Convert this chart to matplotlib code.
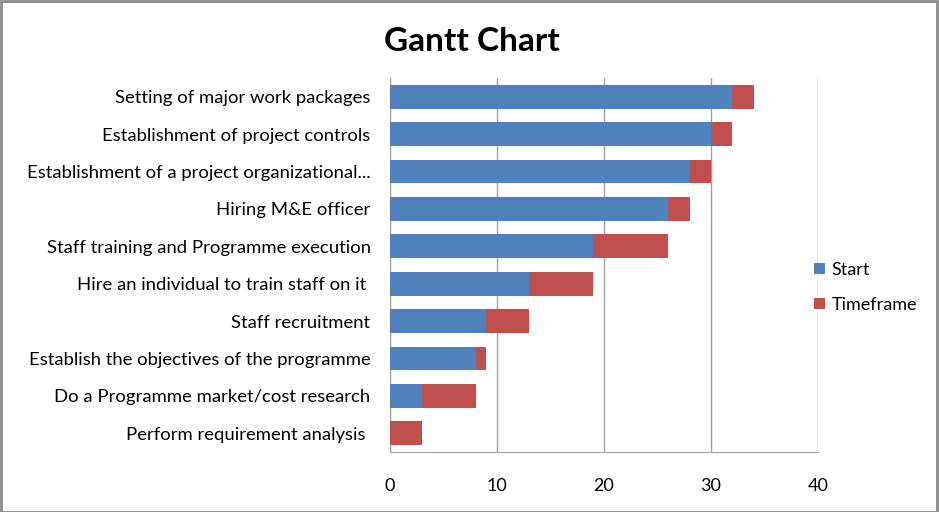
import matplotlib.pyplot as plt
from matplotlib.patches import Rectangle

start_color = "#4F81BD"
time_color = "#C0504D"

# Tasks listed bottom to top, as they appear on the axis
tasks = [
    "Perform requirement analysis ",
    "Do a Programme market/cost research",
    "Establish the objectives of the programme",
    "Staff recruitment",
    "Hire an individual to train staff on it ",
    "Staff training and Programme execution",
    "Hiring M&E officer",
    "Establishment of a project organizational...",
    "Establishment of project controls",
    "Setting of major work packages",
]
start = [0, 3, 8, 9, 13, 19, 26, 28, 30, 32]
timeframe = [3, 5, 1, 4, 6, 7, 2, 2, 2, 2]
xticks = [0, 10, 20, 30, 40]

plt.rcParams["font.family"] = ["Lato", "DejaVu Sans"]

fig = plt.figure(figsize=(9.39, 5.12), dpi=100)
ax = fig.add_axes([0.4153, 0.1172, 0.4558, 0.7305])

ypos = list(range(len(tasks)))
ax.barh(ypos, start, height=0.64, color=start_color, label="Start", zorder=3)
ax.barh(ypos, timeframe, left=start, height=0.64, color=time_color,
        label="Timeframe", zorder=3)

ax.set_xlim(0, 40)
ax.set_ylim(-0.5, len(tasks) - 0.5)
ax.set_xticks(xticks)
ax.set_yticks(ypos)
ax.set_yticklabels(tasks, fontsize=13.3)
ax.tick_params(axis="x", labelsize=13, length=0, pad=19)
ax.tick_params(axis="y", length=0, pad=14)

ax.grid(True, axis="x", color="#A0A0A0", linewidth=1, zorder=0)
for side in ["top", "right"]:
    ax.spines[side].set_visible(False)
for side in ["left", "bottom"]:
    ax.spines[side].set_color("#A0A0A0")

fig.suptitle("Gantt Chart", fontsize=24, fontweight="bold", x=0.502, y=0.918,
             va="center")

ax.legend(loc="center left", bbox_to_anchor=(0.952, 0.44), frameon=False,
          fontsize=13, handlelength=0.6, handleheight=0.6, handletextpad=0.4,
          labelspacing=1.05)

# figure border
fig.patches.append(Rectangle((0.001, 0.0), 0.997, 0.998, transform=fig.transFigure,
                             fill=False, edgecolor="#8C8C8C", linewidth=2))

fig.savefig("out.png", dpi=100)
